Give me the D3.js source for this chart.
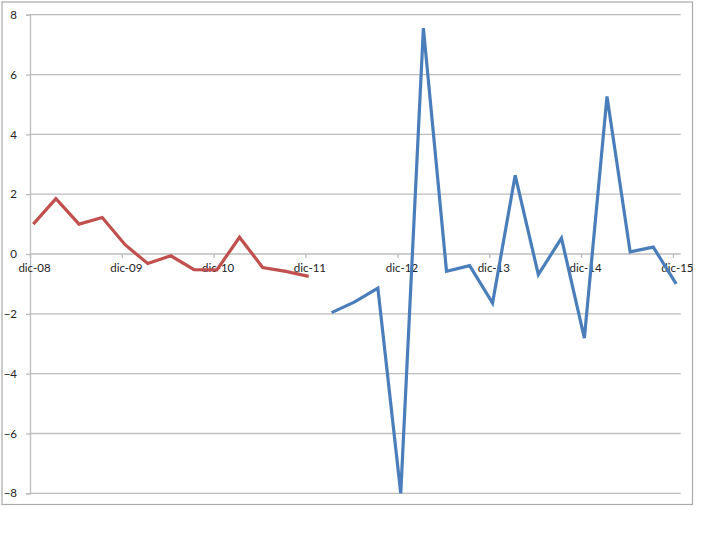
<!DOCTYPE html>
<html>
<head>
<meta charset="utf-8">
<script src="https://cdn.jsdelivr.net/npm/d3@7"></script>
<style>
  html, body { margin: 0; padding: 0; background: #fff; }
  svg { display: block; }
  text { font-family: Lato, "Open Sans", sans-serif; font-size: 11.5px; fill: #222; }
</style>
</head>
<body>
<svg id="chart" width="720" height="540"></svg>
<script>
// ---- data ----
const redDates = ["2008-12-14","2009-03-14","2009-06-14","2009-09-14","2009-12-14","2010-03-14","2010-06-14","2010-09-14","2010-12-14","2011-03-14","2011-06-14","2011-09-14","2011-12-14"];
const redValues = [1.0, 1.85, 1.0, 1.22, 0.31, -0.32, -0.06, -0.52, -0.53, 0.56, -0.45, -0.58, -0.75];
const blueDates = ["2012-03-14","2012-06-14","2012-09-14","2012-12-14","2013-03-14","2013-06-14","2013-09-14","2013-12-14","2014-03-14","2014-06-14","2014-09-14","2014-12-14","2015-03-14","2015-06-14","2015-09-14","2015-12-14"];
const blueValues = [-1.96, -1.6, -1.14, -8.0, 7.55, -0.58, -0.39, -1.64, 2.63, -0.69, 0.53, -2.81, 5.27, 0.07, 0.23, -1.0];
const yTicks = [-8, -6, -4, -2, 0, 2, 4, 6, 8];
const xTickDates = ["2008-12-01","2009-12-01","2010-12-01","2011-12-01","2012-12-01","2013-12-01","2014-12-01","2015-12-01"];
const xTickLabels = ["dic-08","dic-09","dic-10","dic-11","dic-12","dic-13","dic-14","dic-15"];

const parse = d3.utcParse("%Y-%m-%d");
const svg = d3.select("#chart");

const x = d3.scaleUtc()
  .domain([parse("2008-12-01"), parse("2016-01-01")])
  .range([30, 680.7]);
const y = d3.scaleLinear().domain([-8, 8]).range([493.3, 14.7]);

// outer border
svg.append("rect").attr("x", 2).attr("y", 2).attr("width", 690.5).attr("height", 502.5)
  .attr("fill", "none").attr("stroke", "#aaaaaa").attr("stroke-width", 1.2);

// gridlines
svg.append("g").selectAll("line").data(yTicks).join("line")
  .attr("x1", 30).attr("x2", 680.7)
  .attr("y1", d => y(d)).attr("y2", d => y(d))
  .attr("stroke", "#bcbcbc").attr("stroke-width", 1.3);

// y axis
const yAxis = d3.axisLeft(y).tickValues(yTicks).tickSize(4).tickPadding(9).tickFormat(d3.format("d"));
const gy = svg.append("g").attr("transform", "translate(30,0)").call(yAxis);
gy.select(".domain").attr("stroke", "#bcbcbc").attr("stroke-width", 1.3);
gy.selectAll(".tick line").attr("stroke", "#bcbcbc").attr("stroke-width", 1.3);
gy.selectAll("text").attr("fill", "#222").style("font-family", "Lato, 'Open Sans', sans-serif").style("font-size", "11.5px");

// x axis at zero
const xAxis = d3.axisBottom(x)
  .tickValues(xTickDates.map(parse))
  .tickSize(4).tickPadding(6)
  .tickFormat((d, i) => xTickLabels[i]);
const gx = svg.append("g").attr("transform", `translate(0,${y(0)})`).call(xAxis);
gx.select(".domain").remove();
gx.selectAll(".tick line").attr("stroke", "#bcbcbc").attr("stroke-width", 1.3);
gx.selectAll("text").attr("dx", 4).attr("fill", "#222").style("font-family", "Lato, 'Open Sans', sans-serif").style("font-size", "11.5px");

// lines
const line = d3.line().x(d => x(d[0])).y(d => y(d[1]));
const redData = redDates.map((d, i) => [parse(d), redValues[i]]);
const blueData = blueDates.map((d, i) => [parse(d), blueValues[i]]);

svg.append("path").datum(redData).attr("d", line)
  .attr("fill", "none").attr("stroke", "#C0504D").attr("stroke-width", 3.2)
  .attr("stroke-linejoin", "miter");
svg.append("path").datum(blueData).attr("d", line)
  .attr("fill", "none").attr("stroke", "#4A7EBB").attr("stroke-width", 3.2)
  .attr("stroke-linejoin", "miter");
</script>
</body>
</html>
